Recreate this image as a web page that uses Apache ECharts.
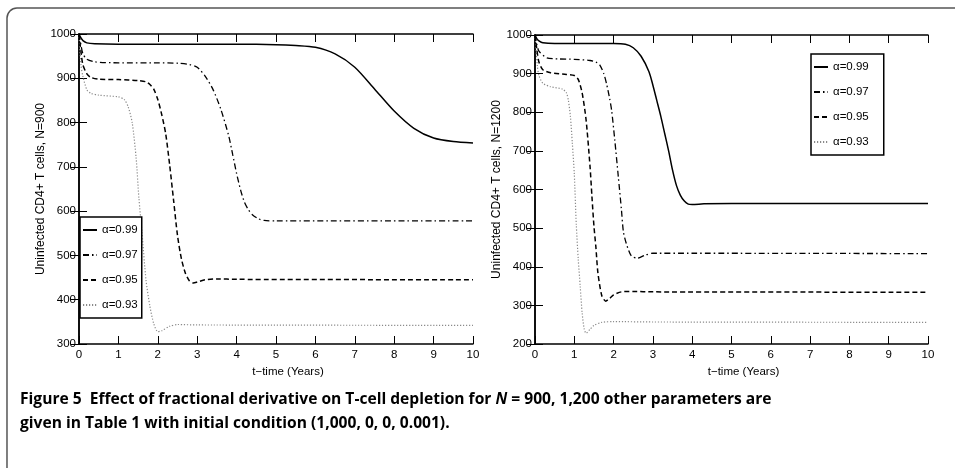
<!DOCTYPE html>
<html>
<head>
<meta charset="utf-8">
<script src="https://cdn.jsdelivr.net/npm/echarts@6/dist/echarts.min.js"></script>
<style>html,body{margin:0;padding:0;background:#fff;}#c{width:955px;height:468px;}</style>
</head>
<body>
<div id="c"></div>
<script>
// ---- Data ----
const xTicks = [0,1,2,3,4,5,6,7,8,9,10];
const seriesNames = ['α=0.99','α=0.97','α=0.95','α=0.93'];

// Left panel, N = 900
const tL99 = [0,0.05,0.1,0.2,0.4,1,2,3,4,5,5.5,6,6.5,7,7.5,8,8.5,9,9.5,10];
const vL99 = [1000,991,985,980,978,977,977,977,977,976,974,970,955,925,876,826,787,765,757,754];
const tL97 = [0,0.05,0.1,0.2,0.4,1,2,2.5,2.8,3,3.2,3.4,3.6,3.8,3.9,4.0,4.1,4.2,4.3,4.4,4.55,4.7,5,10];
const vL97 = [1000,975,955,943,937,935,935,934,931,925,905,875,830,770,728,685,648,620,603,592,583,579,578,578];
const tL95 = [0,0.05,0.1,0.2,0.3,0.5,1,1.5,1.7,1.8,1.9,2.0,2.1,2.2,2.3,2.4,2.5,2.6,2.7,2.8,2.9,3.0,3.2,3.5,4,10];
const vL95 = [1000,960,930,910,902,898,897,895,892,886,875,852,818,775,705,625,545,492,460,443,438,440,445,447,446,445];
const tL93 = [0,0.05,0.1,0.2,0.3,0.5,1.0,1.15,1.25,1.35,1.45,1.52,1.6,1.7,1.8,1.9,2.0,2.1,2.3,2.5,3,10];
const vL93 = [1000,930,904,874,866,862,858,852,835,800,720,630,550,445,385,345,328,330,340,344,343,342];

// Right panel, N = 1200
const tR99 = [0,0.05,0.1,0.2,0.5,1,2,2.3,2.5,2.7,2.9,3.0,3.1,3.2,3.3,3.4,3.5,3.6,3.7,3.8,3.9,4.0,4.3,5,10];
const vR99 = [1000,990,985,980,978,978,978,976,967,945,905,870,830,790,745,700,650,610,585,570,562,561,563,564,564];
const tR97 = [0,0.05,0.1,0.3,0.6,1.0,1.4,1.55,1.65,1.75,1.82,1.9,1.95,2.03,2.12,2.2,2.25,2.33,2.45,2.6,2.8,3.0,4,10];
const vR97 = [1000,975,958,941,938,937,934,930,922,900,874,835,805,728,633,547,490,458,428,422,430,435,435,434];
const tR95 = [0,0.05,0.1,0.2,0.4,0.8,1.0,1.1,1.2,1.3,1.4,1.45,1.5,1.55,1.6,1.7,1.8,1.9,2.0,2.2,2.5,3,10];
const vR95 = [1000,960,930,910,902,898,895,885,850,780,660,580,505,450,385,325,311,318,327,335,336,335,334];
const tR93 = [0,0.03,0.06,0.1,0.2,0.4,0.7,0.8,0.85,0.9,0.95,1.0,1.05,1.1,1.15,1.2,1.25,1.3,1.4,1.5,1.7,2,3,10];
const vR93 = [1000,960,920,895,875,866,860,850,830,790,720,640,510,420,350,280,240,228,238,248,256,258,257,256];

const yLabelLeft = 'Uninfected CD4+ T cells, N=900';
const yLabelRight = 'Uninfected CD4+ T cells, N=1200';
const xLabel = 't\u2212time (Years)';
const captionLine1a = 'Figure 5  Effect of fractional derivative on T-cell depletion for ';
const captionLine1b = 'N';
const captionLine1c = ' = 900, 1,200 other parameters are';
const captionLine2 = 'given in Table 1 with initial condition (1,000, 0, 0, 0.001).';

// ---- Chart ----
const zip = (t, v) => t.map((x, i) => [x, v[i]]);
const styles = [
  {color:'#000', width:1.5, type:'solid'},
  {color:'#000', width:1.3, type:[6,3,1.5,3]},
  {color:'#000', width:1.5, type:[5,3]},
  {color:'#8a8a8a', width:1.2, type:[1.2,1.8]}
];
const leftData = [zip(tL99,vL99), zip(tL97,vL97), zip(tL95,vL95), zip(tL93,vL93)];
const rightData = [zip(tR99,vR99), zip(tR97,vR97), zip(tR95,vR95), zip(tR93,vR93)];

const font = 'Liberation Sans, Arial, Helvetica, sans-serif';
const lblStyle = {color:'#000', fontSize:11.5, fontFamily:font};
const capFont = 'Open Sans, Noto Sans, sans-serif';

function xAxes(gi){
  return [
    {gridIndex:gi, type:'value', min:0, max:10, interval:1, position:'bottom',
     axisLine:{lineStyle:{color:'#000', width:1.5}}, axisTick:{inside:true, length:8, lineStyle:{color:'#000', width:1}},
     axisLabel:Object.assign({margin:5, formatter:v => String(v)}, lblStyle), splitLine:{show:false},
     name:xLabel, nameLocation:'middle', nameGap:21, nameTextStyle:Object.assign({padding:[0,0,0,24]}, lblStyle)},
    {gridIndex:gi, type:'value', min:0, max:10, interval:1, position:'top',
     axisLine:{lineStyle:{color:'#000', width:1.5}}, axisTick:{inside:true, length:8, lineStyle:{color:'#000', width:1}},
     axisLabel:{show:false}, splitLine:{show:false}}
  ];
}
function yAxes(gi, min, name, gap){
  return [
    {gridIndex:gi, type:'value', min:min, max:1000, interval:100, position:'left',
     axisLine:{show:true, lineStyle:{color:'#000', width:1.5}}, axisTick:{show:true, inside:true, length:8, lineStyle:{color:'#000', width:1}},
     axisLabel:Object.assign({margin:3, formatter:v => String(v)}, lblStyle), splitLine:{show:false},
     name:name, nameLocation:'middle', nameGap:gap,
     nameTextStyle:{color:'#000', fontSize:12, fontFamily:font}},
    {gridIndex:gi, type:'value', min:min, max:1000, interval:100, position:'right',
     axisLine:{show:true, lineStyle:{color:'#000', width:1.5}}, axisTick:{show:true, inside:true, length:8, lineStyle:{color:'#000', width:1}},
     axisLabel:{show:false}, splitLine:{show:false}}
  ];
}

const series = [];
[leftData, rightData].forEach((set, gi) => {
  set.forEach((d, i) => {
    series.push({
      name: seriesNames[i], type:'line', xAxisIndex: gi*2, yAxisIndex: gi*2,
      data: d, showSymbol:false, symbol:'none', smooth:0.25, animation:false,
      lineStyle: styles[i], itemStyle:{color: styles[i].color}, z: 4 - i
    });
  });
});

const legendCommon = {
  orient:'vertical', data:seriesNames, itemWidth:14, itemHeight:10, itemGap:13,
  borderColor:'#000', borderWidth:1.5, backgroundColor:'#fff', selectedMode:false,
  textStyle:{color:'#000', fontSize:11.5, fontFamily:font}, itemStyle:{opacity:0}
};

const chart = echarts.init(document.getElementById('c'), null, {renderer:'canvas'});
chart.setOption({
  backgroundColor:'#fff',
  animation:false,
  grid:[
    {left:79, top:34, width:394, height:310},
    {left:535, top:35, width:393, height:309}
  ],
  xAxis: xAxes(0).concat(xAxes(1)),
  yAxis: yAxes(0, 300, yLabelLeft, 28).concat(yAxes(1, 200, yLabelRight, 27)),
  legend:[
    Object.assign({left:80, top:217, padding:[7,4,7,2]}, legendCommon),
    Object.assign({left:811, top:54, padding:[7,15,7,2]}, legendCommon)
  ],
  series: series,
  graphic:[
    {type:'rect', shape:{x:7, y:8, width:1000, height:520, r:10}, style:{fill:'none', stroke:'#555', lineWidth:1.5}, silent:true, z:-1},
    {type:'text', left:20, top:392, style:{
      text:'{b|' + captionLine1a + '}{i|' + captionLine1b + '}{b|' + captionLine1c + '}',
      rich:{
        b:{fontFamily:capFont, fontWeight:'bold', fontSize:15.6, fill:'#000'},
        i:{fontFamily:capFont, fontWeight:'bold', fontStyle:'italic', fontSize:15.6, fill:'#000'}
      }}},
    {type:'text', left:20, top:416, style:{
      text: captionLine2, fontFamily:capFont, fontWeight:'bold', fontSize:15.6, fill:'#000'}}
  ]
});
</script>
</body>
</html>
